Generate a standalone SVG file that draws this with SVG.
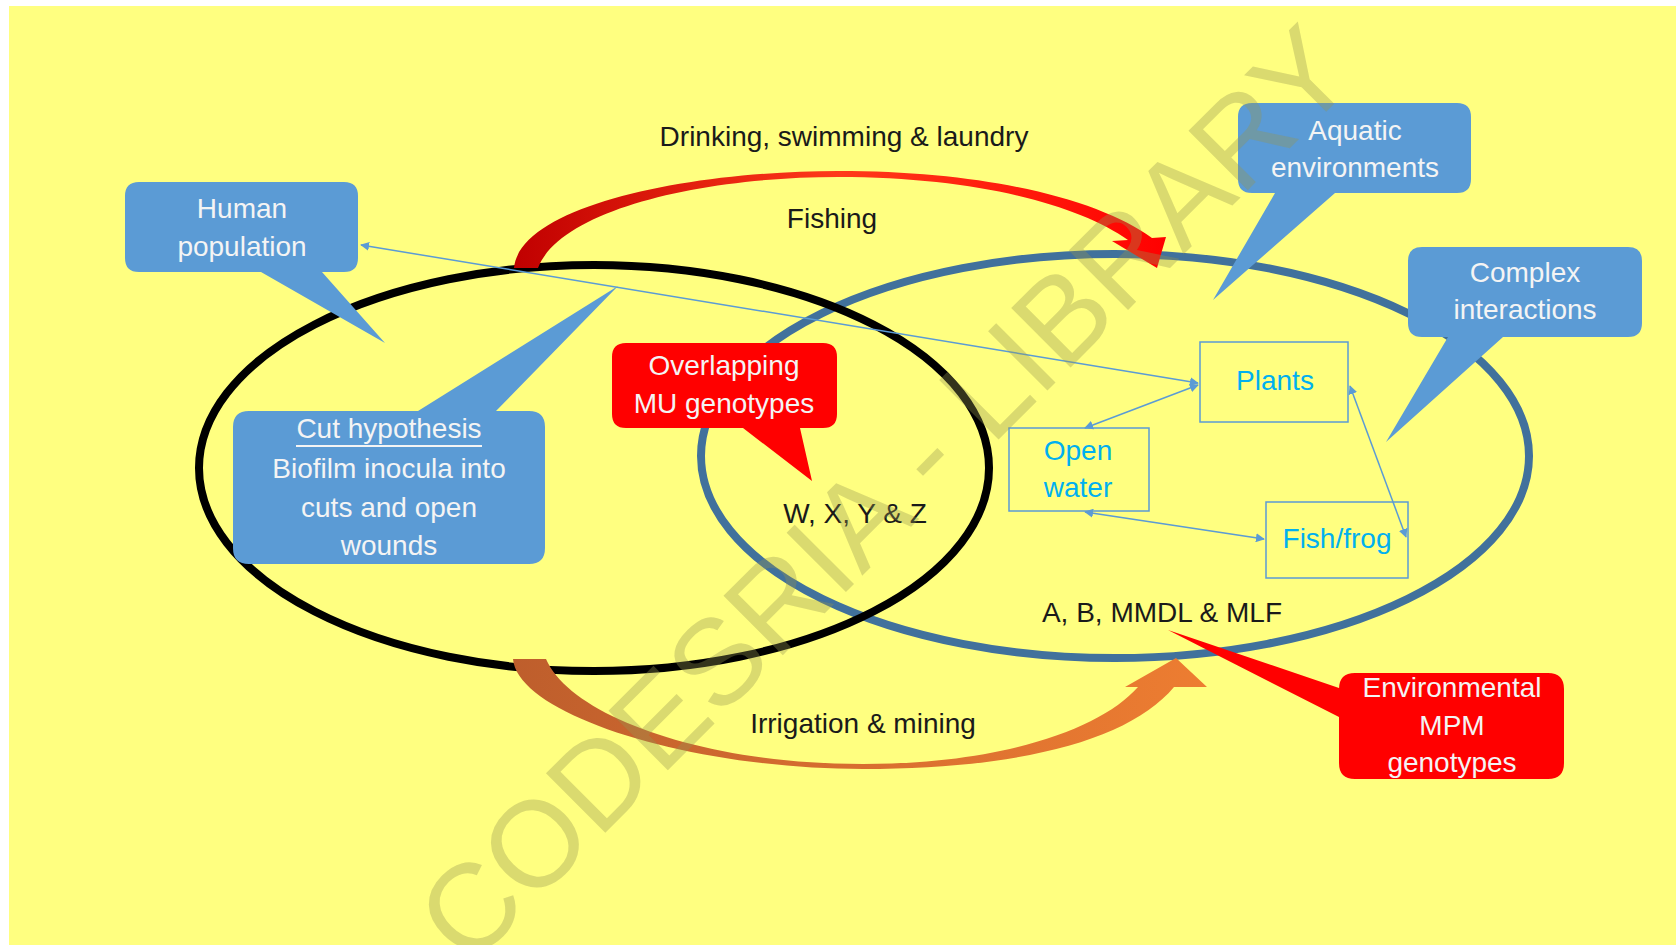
<svg xmlns="http://www.w3.org/2000/svg" width="1676" height="945" viewBox="0 0 1676 945">
  <defs>
    <style>
      .lbl { font-family: "Liberation Sans", Arial, sans-serif; font-size: 28px; text-anchor: middle; }
      .dark { fill: #1a1a1a; }
      .white { fill: #F4F4F4; }
      .cyan { fill: #00B0F0; }
      .bluebox { fill: #5B9BD5; }
      .redbox { fill: #FF0000; }
      .frame { fill: none; stroke: #5B9BD5; stroke-width: 1.5; }
      .conn { stroke: #5B9BD5; stroke-width: 1.5; fill: none; marker-start: url(#ah); marker-end: url(#ah); }
      .wm { font-family: "Liberation Sans", Arial, sans-serif; font-size: 122px; text-anchor: middle; fill: rgb(150,150,80); fill-opacity: 0.35; }
    </style>
    <marker id="ah" viewBox="0 0 10 10" refX="9" refY="5" markerWidth="9" markerHeight="9" markerUnits="userSpaceOnUse" orient="auto-start-reverse">
      <path d="M0,0 L10,5 L0,10 z" fill="#5B9BD5"/>
    </marker>
    <linearGradient id="redGrad" gradientUnits="userSpaceOnUse" x1="514" y1="0" x2="1166" y2="0">
      <stop offset="0" stop-color="#C00000"/>
      <stop offset="0.5" stop-color="#FF3A1A"/>
      <stop offset="1" stop-color="#FF0000"/>
    </linearGradient>
    <linearGradient id="orGrad" gradientUnits="userSpaceOnUse" x1="513" y1="0" x2="1207" y2="0">
      <stop offset="0" stop-color="#BE5E2C"/>
      <stop offset="0.5" stop-color="#D86E30"/>
      <stop offset="1" stop-color="#ED7D31"/>
    </linearGradient>
  </defs>

  <rect x="0" y="0" width="1676" height="945" fill="#FFFFFF"/>
  <rect x="9" y="6" width="1667" height="939" fill="#FFFF80"/>

  <g id="ellipses">
    <ellipse id="aquatic-set" cx="1115" cy="456" rx="414" ry="202" fill="none" stroke="#41719C" stroke-width="8"/>
    <ellipse id="human-set" cx="594" cy="468" rx="395" ry="203" fill="none" stroke="#000000" stroke-width="8"/>
  </g>

  <g id="flow-arrows">
    <path id="red-arrow" fill="url(#redGrad)" d="M514,268 C520,205 690,171 838,171 C990,171 1100,200 1152,238 L1166,237 L1157,268 L1112,241 L1128,240 C1080,206 980,177 838,177 C700,177 560,210 538,268 Z"/>
    <path id="orange-arrow" fill="url(#orGrad)" d="M513,659 C518,715 690,769 863,769 C1020,769 1130,740 1174,687 L1207,687 L1176,658 L1125,687 L1138,687 C1100,730 1000,764 863,764 C700,764 570,715 546,659 Z"/>
  </g>

  <g id="human-population">
    <path class="bluebox" d="M139,182 H344 Q358,182 358,196 V258 Q358,272 344,272 H322 L385,343 L261,272 H139 Q125,272 125,258 V196 Q125,182 139,182 Z"/>
    <text class="lbl white" x="242" y="218">Human</text>
    <text class="lbl white" x="242" y="256">population</text>
  </g>

  <g id="cut-hypothesis">
    <path class="bluebox" d="M249,411 H418 L618,286 L496,411 H529 Q545,411 545,427 V548 Q545,564 529,564 H249 Q233,564 233,548 V427 Q233,411 249,411 Z"/>
    <text class="lbl white" x="389" y="438">Cut hypothesis</text>
    <line x1="296" y1="446" x2="482" y2="446" stroke="#F4F4F4" stroke-width="2"/>
    <text class="lbl white" x="389" y="478">Biofilm inocula into</text>
    <text class="lbl white" x="389" y="517">cuts and open</text>
    <text class="lbl white" x="389" y="555">wounds</text>
  </g>

  <g id="overlapping-mu">
    <path class="redbox" d="M626,343 H823 Q837,343 837,357 V414 Q837,428 823,428 H800 L812,481 L743,428 H626 Q612,428 612,414 V357 Q612,343 626,343 Z"/>
    <text class="lbl white" x="724" y="375">Overlapping</text>
    <text class="lbl white" x="724" y="413">MU genotypes</text>
  </g>

  <g id="aquatic-environments">
    <path class="bluebox" d="M1252,103 H1457 Q1471,103 1471,117 V179 Q1471,193 1457,193 H1335 L1213,300 L1275,193 H1252 Q1238,193 1238,179 V117 Q1238,103 1252,103 Z"/>
    <text class="lbl white" x="1355" y="140">Aquatic</text>
    <text class="lbl white" x="1355" y="177">environments</text>
  </g>

  <g id="complex-interactions">
    <path class="bluebox" d="M1422,247 H1628 Q1642,247 1642,261 V323 Q1642,337 1628,337 H1503 L1386,442 L1448,337 H1422 Q1408,337 1408,323 V261 Q1408,247 1422,247 Z"/>
    <text class="lbl white" x="1525" y="282">Complex</text>
    <text class="lbl white" x="1525" y="319">interactions</text>
  </g>

  <g id="environmental-mpm">
    <path class="redbox" d="M1355,673 H1548 Q1564,673 1564,689 V763 Q1564,779 1548,779 H1355 Q1339,779 1339,763 V717 L1168,630 L1339,688 V689 Q1339,673 1355,673 Z"/>
    <text class="lbl white" x="1452" y="697">Environmental</text>
    <text class="lbl white" x="1452" y="735">MPM</text>
    <text class="lbl white" x="1452" y="772">genotypes</text>
  </g>

  <g id="plants">
    <rect class="frame" x="1200" y="342" width="148" height="80"/>
    <text class="lbl cyan" x="1275" y="390">Plants</text>
  </g>
  <g id="open-water">
    <rect class="frame" x="1009" y="428" width="140" height="83"/>
    <text class="lbl cyan" x="1078" y="460">Open</text>
    <text class="lbl cyan" x="1078" y="497">water</text>
  </g>
  <g id="fish-frog">
    <rect class="frame" x="1266" y="502" width="142" height="76"/>
    <text class="lbl cyan" x="1337" y="548">Fish/frog</text>
  </g>

  <g id="connectors">
    <line class="conn" x1="1198" y1="383" x2="361" y2="245"/>
    <line class="conn" x1="1198" y1="385" x2="1085" y2="428"/>
    <line class="conn" x1="1085" y1="512" x2="1264" y2="539"/>
    <line class="conn" x1="1350" y1="386" x2="1406" y2="537"/>
  </g>

  <g id="labels">
    <text class="lbl dark" x="844" y="146">Drinking, swimming &amp; laundry</text>
    <text class="lbl dark" x="832" y="228">Fishing</text>
    <text class="lbl dark" x="855" y="523">W, X, Y &amp; Z</text>
    <text class="lbl dark" x="1162" y="622">A, B, MMDL &amp; MLF</text>
    <text class="lbl dark" x="863" y="733">Irrigation &amp; mining</text>
  </g>

  <text class="wm" x="914" y="524" transform="rotate(-45 914 524)">CODESRIA - LIBRARY</text>
</svg>
